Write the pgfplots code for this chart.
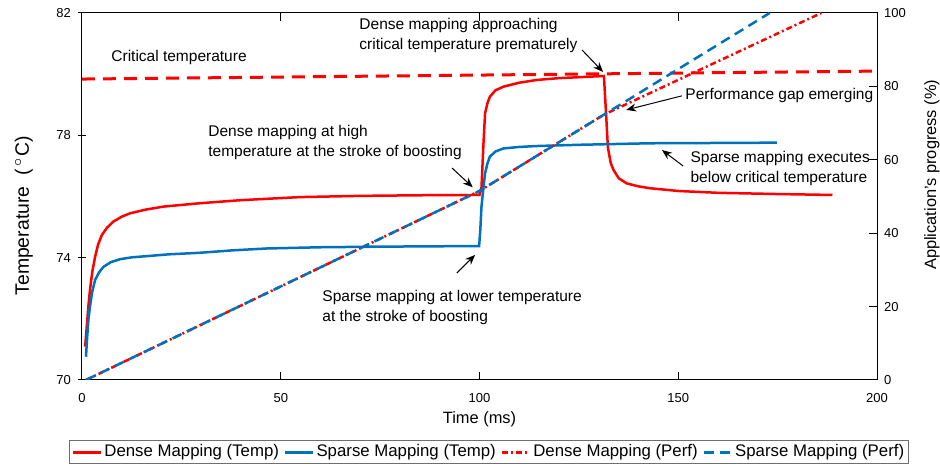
\documentclass[border=0pt]{standalone}
\usepackage{pgfplots}
\pgfplotsset{compat=1.18}
\usepackage{fontspec}
\setmainfont{Liberation Sans}
\usetikzlibrary{arrows.meta}

\definecolor{densered}{RGB}{255,0,0}
\definecolor{sparseblue}{RGB}{0,114,189}
\definecolor{legendgray}{RGB}{110,110,110}

\tikzset{
  note/.style={font=\fontsize{7.75}{10}\selectfont, align=left, anchor=west, inner sep=0pt},
  pointer/.style={-{Stealth[length=5pt,width=4pt]}, black, line width=0.5pt},
}

\begin{document}
\begin{tikzpicture}
\pgfplotsset{
  twinbase/.style={
    scale only axis,
    width=397.5pt, height=183.5pt,
    xmin=0, xmax=200,
    /pgf/number format/assume math mode=true,
    ticklabel style={font=\fontsize{6.5}{7}\selectfont},
    label style={font=\fontsize{8.2}{9}\selectfont},
    axis line style={line width=0.5pt},
    major tick length=4pt,
    tick style={black, line width=0.5pt},
  },
}

% temperature axis (left)
\begin{axis}[
  twinbase,
  ymin=70, ymax=82,
  ytick={70,74,78,82},
  xtick={0,50,100,150,200},
  xtick pos=both,
  xticklabel pos=lower,
  ytick pos=left,
  xtick align=inside,
  ytick align=center,
  xticklabel style={yshift=-3pt},
  xlabel={Time (ms)},
  ylabel={Temperature\ \ (\,$^{\circ}$C)},
  xlabel style={at={(axis description cs:0.5,-0.108)}, anchor=center},
  ylabel style={at={(axis description cs:-0.073,0.447)}, anchor=center,
    font=\fontsize{9.7}{11}\selectfont},
]
\coordinate (sw) at (rel axis cs:0,0);
\coordinate (ne) at (rel axis cs:1,1);

% critical temperature
\addplot [densered, line width=1.5pt, dash pattern=on 6.5pt off 4pt] coordinates {
(0,79.84) (200,80.1)
};

% dense mapping temperature
\addplot [densered, line width=1.25pt] coordinates {
(0.8,71.09) (1.2,71.75) (1.6,72.4) (2.0,72.94) (2.6,73.55) (3.3,74.03) (4.1,74.45)
(5.0,74.74) (6.3,74.98) (7.9,75.18) (10,75.34) (12.1,75.45) (16,75.57) (20.5,75.67)
(29.7,75.78) (40,75.88) (54.8,75.98) (70,76.02) (85,76.04) (100,76.05)
(100.5,76.3) (101,77.74) (101.4,78.72) (102,79.05) (102.6,79.26) (104,79.47)
(106,79.59) (110,79.72) (114.4,79.81) (120,79.87) (125,79.9) (131.3,79.94)
(131.8,78.8) (132.3,77.6) (133,77.1) (133.7,76.87) (135,76.6) (137,76.43)
(140,76.33) (142.9,76.27) (150,76.18) (160,76.12) (175,76.08) (188.8,76.05)
};

% sparse mapping temperature
\addplot [sparseblue, line width=1.25pt] coordinates {
(1,70.76) (1.3,71.4) (1.6,71.95) (2,72.4) (2.6,72.9) (3.3,73.27) (4.3,73.52)
(5.4,73.7) (7.2,73.85) (9.6,73.95) (12.5,74.01) (16.3,74.05) (22,74.11)
(29.7,74.16) (38,74.24) (46.5,74.3) (60,74.34) (75,74.36) (99.9,74.38)
(100.2,74.9) (100.5,75.67) (101,76.3) (101.4,76.76) (102,77.08) (102.6,77.3)
(104,77.47) (106,77.57) (110,77.62) (114.4,77.65) (125,77.69) (142.9,77.74)
(160,77.75) (174.8,77.76)
};

% annotations
\node[note] at (axis cs:7.3,80.53) {Critical temperature};
\node[note] at (axis cs:69.7,81.28) {Dense mapping approaching\\critical temperature prematurely};
\draw[pointer] (axis cs:125.8,80.79) -- (axis cs:131.1,80.07);
\node[note] at (axis cs:151.7,79.29) {Performance gap emerging};
\draw[pointer] (axis cs:150.9,79.29) -- (axis cs:136.9,78.83);
\node[note] at (axis cs:31.7,77.75) {Dense mapping at high\\temperature at the stroke of boosting};
\draw[pointer] (axis cs:93.1,76.93) -- (axis cs:98.3,76.3);
\node[note] at (axis cs:153,76.9) {Sparse mapping executes\\below critical temperature};
\draw[pointer] (axis cs:151.2,77.0) -- (axis cs:145.9,77.52);
\node[note] at (axis cs:60.4,72.37) {Sparse mapping at lower temperature\\at the stroke of boosting};
\draw[pointer] (axis cs:94.3,73.5) -- (axis cs:98.9,74.09);
\end{axis}

% progress axis (right)
\begin{axis}[
  twinbase,
  ymin=0, ymax=100,
  ytick={0,20,40,60,80,100},
  axis x line=none,
  axis y line*=right,
  ytick align=inside,
  ylabel={Application's progress (\%)},
  ylabel style={at={(axis description cs:1.069,0.559)}, anchor=center},
  legend columns=4,
  legend style={
    at={(axis description cs:0.512,-0.197)}, anchor=center,
    draw=legendgray, line width=0.5pt,
    font=\fontsize{8.4}{9}\selectfont,
    inner sep=1pt,
    nodes={inner sep=1pt},
    /tikz/every odd column/.append style={column sep=0pt},
    /tikz/every even column/.append style={column sep=1.5pt},
  },
  legend image code/.code={\draw[#1] (0pt,0pt) -- (14pt,0pt);},
]
\addlegendimage{densered, line width=1.25pt}
\addlegendentry{Dense Mapping (Temp)}
\addlegendimage{sparseblue, line width=1.25pt}
\addlegendentry{Sparse Mapping (Temp)}

% dense mapping progress
\addplot [densered, line width=1.25pt, dash pattern=on 3pt off 1.5pt on 1pt off 1.5pt] coordinates {
(1,0) (100,51.5) (131.3,72.3) (186,100)
};
\addlegendentry{Dense Mapping (Perf)}

% sparse mapping progress
\addplot [sparseblue, line width=1.25pt, dash pattern=on 5pt off 3pt] coordinates {
(1,0) (100,51.5) (173,100)
};
\addlegendentry{Sparse Mapping (Perf)}
\end{axis}

\pgfresetboundingbox
\path ([xshift=-41pt,yshift=-44pt]sw) rectangle ([xshift=31.5pt,yshift=6.5pt]ne);
\end{tikzpicture}
\end{document}
